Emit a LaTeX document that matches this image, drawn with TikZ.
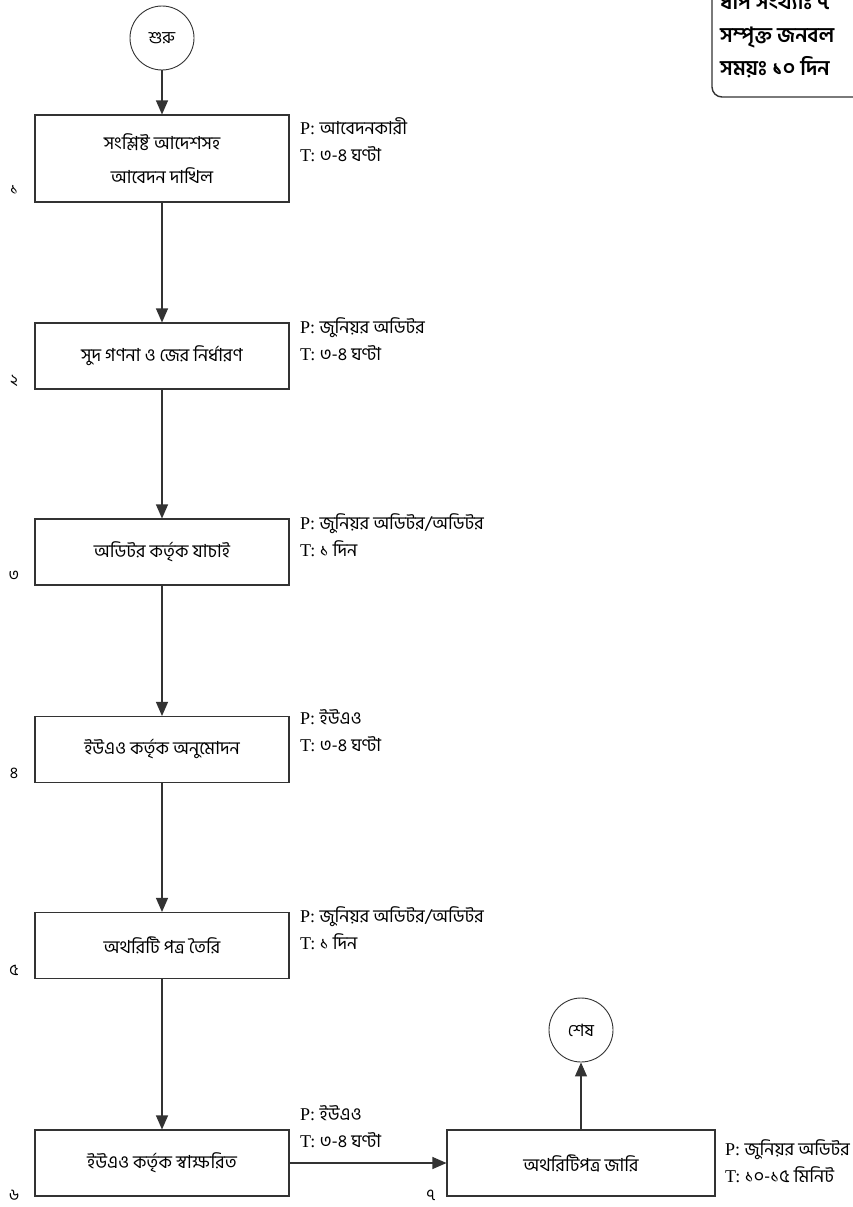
\documentclass[tikz,border=0pt]{standalone}
\usepackage{fontspec}
\setmainfont{Liberation Serif}
\newfontfamily\bn[Script=Bengali]{Hind Siliguri}
\usetikzlibrary{arrows.meta}
\definecolor{ink}{HTML}{333333}
\tikzset{
  stepbox/.style={draw=ink, line width=1.1pt, minimum width=254pt, minimum height=66pt,
    align=center, inner sep=2pt, font=\bn\fontsize{18}{34}\selectfont},
  termnode/.style={draw=ink, line width=0.9pt, circle, minimum size=64pt, inner sep=0pt,
    font=\bn\fontsize{17}{19}\selectfont},
  flow/.style={draw=ink, line width=1.1pt, -{Triangle[length=14pt,width=12pt]}},
  info/.style={anchor=west, align=left, inner sep=0pt, font=\fontsize{18}{27}\selectfont},
  stepno/.style={inner sep=0pt, font=\bn\fontsize{16}{18}\selectfont},
  summary/.style={anchor=west, align=left, inner sep=0pt, font=\bn\bfseries\fontsize{21}{33}\selectfont}
}
\newcommand{\pt}[2]{P: {\bn #1}\\T: {\bn #2}}
\begin{document}
\begin{tikzpicture}[x=1pt,y=-1pt]
\useasboundingbox (0,0) rectangle (853,1207);
\clip (0,0) rectangle (853,1207);
\fill[white] (0,0) rectangle (853,1207);

% summary box in the upper right corner
\draw[ink, line width=1.4pt, rounded corners=10pt] (712,-20) -- (712,97) -- (870,97);
\node[summary] (sum) at (720,36) {ধাপ সংখ্যাঃ ৭\\সম্পৃক্ত জনবল\\সময়ঃ ১০ দিন};

% terminals
\node[termnode] (start) at (162,38) {শুরু};
\node[termnode] (stop) at (581,1030) {শেষ};

% process steps
\node[stepbox, minimum height=87pt] (s1) at (162,158.5) {সংশ্লিষ্ট আদেশসহ\\আবেদন দাখিল};
\node[stepbox] (s2) at (162,356) {সুদ গণনা ও জের নির্ধারণ};
\node[stepbox] (s3) at (162,552) {অডিটর কর্তৃক যাচাই};
\node[stepbox] (s4) at (162,749.5) {ইউএও কর্তৃক অনুমোদন};
\node[stepbox] (s5) at (162,945.5) {অথরিটি পত্র তৈরি};
\node[stepbox] (s6) at (162,1163) {ইউএও কর্তৃক স্বাক্ষরিত};
\node[stepbox, minimum width=268pt] (s7) at (581,1163) {অথরিটিপত্র জারি};

% responsible person and time
\node[info] (i1) at (300,140) {\pt{আবেদনকারী}{৩-৪ ঘণ্টা}};
\node[info] (i2) at (300,339) {\pt{জুনিয়র অডিটর}{৩-৪ ঘণ্টা}};
\node[info] (i3) at (300,535) {\pt{জুনিয়র অডিটর/অডিটর}{১ দিন}};
\node[info] (i4) at (300,731) {\pt{ইউএও}{৩-৪ ঘণ্টা}};
\node[info] (i5) at (300,928) {\pt{জুনিয়র অডিটর/অডিটর}{১ দিন}};
\node[info] (i6) at (300,1127) {\pt{ইউএও}{৩-৪ ঘণ্টা}};
\node[info] (i7) at (725,1161) {\pt{জুনিয়র অডিটর}{১০-১৫ মিনিট}};

% step numbers
\node[stepno] (n1) at (14,190) {১};
\node[stepno] (n2) at (14,381) {২};
\node[stepno] (n3) at (14,576) {৩};
\node[stepno] (n4) at (14,773) {৪};
\node[stepno] (n5) at (14,970) {৫};
\node[stepno] (n6) at (14,1195) {৬};
\node[stepno] (n7) at (431,1195) {৭};

% connectors
\draw[flow] (start) -- (s1);
\draw[flow] (s1) -- (s2);
\draw[flow] (s2) -- (s3);
\draw[flow] (s3) -- (s4);
\draw[flow] (s4) -- (s5);
\draw[flow] (s5) -- (s6);
\draw[flow] (s6) -- (s7);
\draw[flow] (s7) -- (stop);
\end{tikzpicture}
\end{document}
